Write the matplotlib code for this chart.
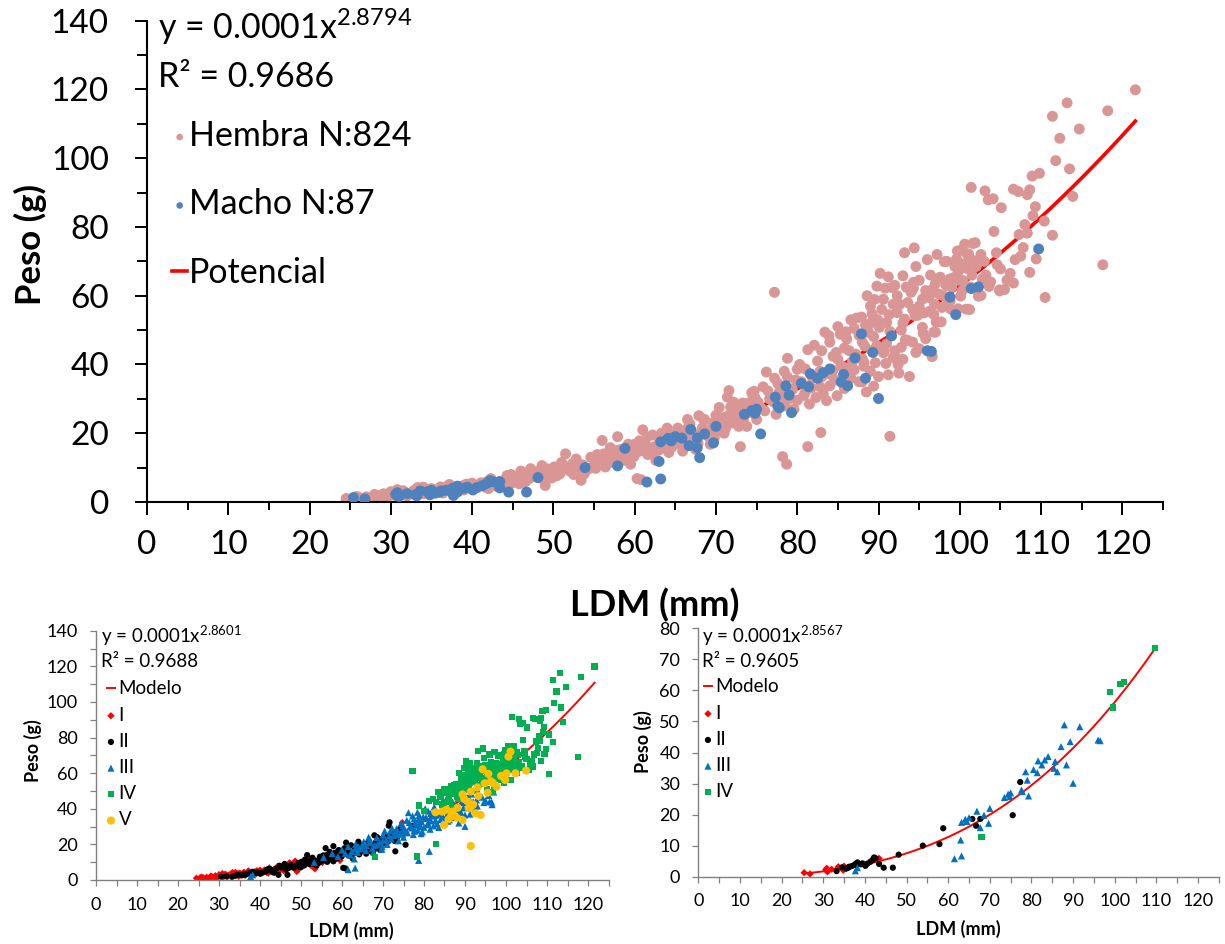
import numpy as np
import matplotlib.pyplot as plt
from matplotlib.ticker import MultipleLocator

plt.rcParams['font.family'] = ['Lato', 'DejaVu Sans']
plt.rcParams['mathtext.default'] = 'regular'

W, H = 1225, 944

# (LDM mm, Peso g), split by class as in the lower-left panel
HEMBRA_I = [
	(24.5, 1.0), (25.3, 0.8), (26.2, 1.2), (27.0, 1.5), (27.8, 1.1), (28.3, 1.9), (28.9, 1.4),
	(29.1, 2.4), (29.8, 2.0), (30.2, 2.6), (30.8, 3.6), (31.2, 2.2), (31.7, 2.9), (32.3, 2.5),
	(32.8, 3.3), (33.3, 4.2), (33.9, 2.8), (34.4, 3.5), (35.0, 3.9), (35.6, 3.0), (36.1, 4.4),
	(36.7, 3.4), (37.2, 5.1), (37.6, 4.0), (38.2, 3.2), (38.8, 4.7), (39.3, 5.2), (39.9, 3.9),
	(40.5, 4.8), (41.1, 5.6), (41.6, 4.3), (42.3, 6.8), (42.8, 5.2), (43.4, 6.0), (44.3, 7.7),
	(44.9, 5.5), (45.5, 6.6), (46.0, 8.2), (46.6, 6.0), (47.2, 9.7), (47.8, 7.3), (48.6, 10.6),
	(49.0, 4.8), (49.6, 8.6), (50.4, 7.6), (51.2, 9.4), (52.5, 8.0), (53.4, 6.3), (55.2, 9.8),
	(57.0, 11.5), (58.6, 12.4), (59.5, 11.0), (74.7, 32.2),
	(25.8, 1.6), (26.8, 0.9), (28.0, 2.2), (29.5, 1.2), (30.0, 3.0), (31.5, 3.3), (32.0, 1.8),
	(33.0, 2.6), (34.0, 4.3), (35.3, 3.5), (36.4, 2.6), (37.0, 4.6), (38.0, 4.4), (39.0, 3.5),
	(40.0, 5.5), (41.3, 4.9), (42.0, 3.9), (43.8, 5.2), (44.6, 6.9), (45.8, 5.3), (46.9, 7.4),
	(48.0, 8.8), (48.9, 6.4), (50.0, 9.5),
]
HEMBRA_II = [
	(30.5, 1.9), (31.8, 2.1), (34.0, 2.4), (36.5, 3.1), (38.5, 3.8), (40.2, 4.1), (41.8, 5.9),
	(43.0, 4.6), (44.0, 6.4), (45.2, 7.1), (46.3, 5.9), (47.5, 8.5), (48.3, 7.0), (49.3, 9.6),
	(50.1, 10.2), (50.8, 8.2), (51.5, 14.0), (51.7, 10.2), (52.4, 11.2), (53.0, 9.2), (53.8, 8.2),
	(54.6, 13.0), (55.0, 10.6), (55.8, 12.3), (56.0, 17.9), (56.2, 14.0), (56.7, 11.6),
	(57.3, 13.4), (57.9, 19.0), (58.2, 15.2), (58.7, 12.1), (59.5, 15.0), (60.3, 6.8),
	(60.8, 6.5), (60.4, 14.6), (61.0, 21.0), (61.2, 17.2), (61.8, 15.8), (62.6, 12.1),
	(63.0, 18.5), (63.6, 16.2), (64.2, 14.4), (64.9, 19.6), (65.5, 17.0), (66.2, 20.5),
	(66.9, 18.1), (67.5, 15.3), (67.9, 25.1), (68.3, 21.4), (69.0, 19.2), (69.6, 23.0),
	(70.2, 20.7), (71.0, 24.6), (71.6, 32.4), (71.4, 30.5), (72.3, 27.0), (73.0, 16.1),
	(73.4, 23.8), (74.2, 29.0),
	(44.8, 8.0), (46.0, 9.0), (47.0, 6.8), (48.8, 8.0), (49.8, 7.0), (51.0, 11.5), (52.0, 9.0),
	(52.8, 12.5), (53.6, 10.8), (54.3, 9.6), (55.4, 13.8), (56.4, 10.2), (57.0, 15.8),
	(57.8, 12.8), (58.5, 14.0), (59.2, 16.8), (59.9, 13.2), (60.6, 17.8), (61.6, 13.8),
	(62.2, 19.5), (62.9, 15.0), (63.4, 17.2), (64.0, 21.5), (64.6, 16.0), (65.2, 18.5),
	(65.9, 14.8), (66.6, 21.8), (67.2, 19.8), (67.8, 17.0), (68.6, 24.0), (69.3, 16.8),
	(70.5, 23.2), (71.2, 21.5), (72.0, 25.5), (72.8, 22.0), (73.8, 27.0),
]
HEMBRA_III = [
	(53.2, 9.9), (55.5, 12.7), (57.6, 14.9), (59.0, 13.2), (60.0, 16.8), (61.5, 18.8),
	(62.4, 16.0), (63.3, 20.0), (64.5, 17.5), (65.3, 21.5), (66.0, 19.3), (66.8, 22.7),
	(67.4, 17.8), (68.5, 23.8), (69.3, 21.0), (70.0, 25.2), (70.8, 22.4), (71.8, 27.6),
	(72.6, 25.0), (73.3, 28.8), (74.0, 26.0), (74.8, 30.4), (75.5, 27.4), (76.2, 37.8),
	(76.4, 32.3), (77.0, 29.2), (77.6, 34.5), (78.2, 30.8), (78.7, 11.0), (78.8, 36.3),
	(79.4, 32.7), (80.0, 29.6), (80.5, 35.0), (81.3, 16.1), (81.0, 38.7), (81.7, 33.2),
	(82.3, 30.4), (83.0, 36.4), (84.0, 33.8), (85.4, 39.6), (86.5, 36.2), (88.0, 41.6),
	(89.0, 38.0), (90.6, 43.4), (92.4, 40.0), (93.6, 47.0), (95.0, 44.6), (96.6, 42.3),
	(97.0, 49.4), (60.8, 15.0), (62.0, 14.0), (63.8, 15.5), (65.8, 16.5), (66.5, 24.0),
	(68.0, 19.5), (69.8, 18.6), (71.0, 20.0), (72.0, 23.0), (73.8, 22.0), (75.0, 24.0),
	(76.0, 26.5), (77.4, 25.5), (78.5, 28.0), (79.6, 27.0), (80.8, 31.0), (81.5, 28.5),
	(82.8, 33.5), (83.6, 29.5), (84.6, 35.5), (85.8, 33.0), (86.9, 38.5), (87.6, 35.0),
	(88.5, 32.0), (89.6, 40.5), (91.2, 37.0), (92.0, 44.0), (93.0, 41.5), (94.2, 46.5),
	(95.8, 47.5),
	(70.4, 27.5), (71.5, 25.0), (72.2, 29.0), (73.0, 26.5), (74.4, 31.8), (75.2, 29.0),
	(75.8, 33.5), (76.6, 30.0), (77.2, 36.0), (77.8, 32.0), (78.4, 38.0), (79.0, 30.0),
	(79.8, 35.5), (80.3, 40.0), (81.0, 32.0), (81.9, 36.0), (82.5, 41.0), (83.2, 31.5),
	(84.2, 37.0), (85.0, 41.5), (86.2, 39.0), (87.2, 43.0), (88.2, 39.5), (89.2, 44.0),
	(90.0, 36.5), (91.0, 46.0), (92.8, 45.0), (94.6, 43.5),
]
HEMBRA_IV = [
	(77.2, 61.0), (78.2, 13.2), (82.9, 20.2), (78.8, 41.8), (80.0, 38.6), (81.3, 44.3),
	(82.1, 45.6), (83.4, 49.4), (83.9, 48.4), (84.4, 42.4), (85.3, 48.8), (85.8, 44.8),
	(86.1, 47.4), (86.8, 40.9), (87.3, 53.5), (87.9, 53.8), (88.3, 45.4), (88.8, 49.3),
	(89.2, 54.7), (89.5, 58.9), (89.8, 62.8), (90.1, 50.8), (90.8, 62.2), (91.0, 52.2),
	(91.6, 62.4), (92.3, 55.1), (92.3, 60.0), (93.0, 65.8), (93.2, 72.5), (93.2, 53.2),
	(94.0, 61.0), (94.3, 63.9), (94.4, 73.9), (94.5, 54.2), (94.6, 68.5), (95.4, 59.0),
	(95.8, 61.5), (95.4, 50.8), (96.7, 62.0), (96.8, 49.4), (97.1, 52.3), (97.6, 65.4),
	(97.8, 56.6), (98.1, 69.9), (98.4, 70.0), (98.8, 64.9), (98.9, 56.1), (99.3, 65.3),
	(99.6, 70.7), (99.7, 73.0), (100.1, 73.2), (100.4, 64.4), (100.6, 75.0), (100.8, 56.1),
	(100.9, 72.1), (101.2, 56.0), (101.4, 91.5), (101.6, 75.2), (101.7, 70.2), (101.9, 75.4),
	(102.3, 60.0), (102.6, 60.1), (102.8, 64.9), (103.1, 90.5), (103.6, 62.7), (103.5, 87.9),
	(104.1, 88.2), (104.2, 78.7), (104.9, 61.7), (105.0, 67.8), (105.1, 85.6), (105.5, 61.8),
	(106.2, 66.5), (106.6, 91.0), (106.6, 63.7), (107.2, 90.3), (107.3, 77.8), (107.5, 71.5),
	(108.0, 80.7), (108.3, 89.4), (108.3, 78.2), (108.6, 90.8), (108.6, 66.8), (108.9, 94.8),
	(109.0, 83.3), (109.3, 85.9), (109.4, 70.7), (109.8, 95.6), (110.4, 81.7), (110.5, 59.5),
	(111.4, 77.6), (111.4, 112.2), (111.8, 99.3), (112.3, 105.8), (113.2, 116.1),
	(113.5, 96.9), (113.9, 88.9), (114.7, 108.5), (117.6, 69.0), (118.2, 113.8),
	(121.6, 119.9), (84.8, 43.5), (86.4, 44.0), (87.0, 50.5), (88.0, 46.5), (89.0, 52.0),
	(90.4, 56.0), (91.8, 57.5), (92.8, 50.0), (93.6, 58.0), (95.0, 57.0), (96.2, 59.5),
	(97.0, 63.5), (98.0, 60.0), (99.0, 62.5), (99.8, 67.0), (100.3, 61.5), (101.5, 66.0),
	(102.0, 68.5), (103.0, 70.0), (104.5, 72.5), (103.2, 66.0),
	(83.0, 44.0), (84.0, 46.5), (85.0, 51.0), (86.0, 49.5), (86.6, 53.0), (87.6, 48.5),
	(88.4, 51.5), (89.0, 57.0), (89.9, 53.0), (90.6, 59.0), (91.3, 54.5), (92.0, 63.0),
	(92.6, 57.5), (93.4, 62.5), (94.2, 56.0), (95.0, 64.5), (95.6, 55.0), (96.4, 66.0),
	(96.9, 57.5), (97.4, 60.5), (98.3, 63.0), (98.6, 58.0), (99.4, 68.5), (100.0, 64.5),
	(100.8, 68.0), (101.3, 62.5), (102.6, 72.0), (103.8, 64.0), (104.6, 69.0), (105.8, 64.5),
	(106.8, 70.5), (107.8, 74.0), (96.0, 70.5), (97.2, 72.0), (91.2, 65.5), (88.6, 60.0),
	(90.2, 66.5),
]
HEMBRA_V = [
	(82.8, 38.0), (84.4, 38.4), (84.9, 30.9), (86.0, 34.1), (87.0, 38.4), (89.4, 48.1),
	(89.4, 33.7), (91.4, 49.6), (90.7, 44.0), (90.9, 40.3), (92.5, 37.5), (93.3, 47.2),
	(94.3, 62.2), (94.8, 54.3), (95.7, 59.6), (97.7, 52.4), (99.8, 56.2), (100.1, 59.9),
	(100.6, 69.3), (101.1, 72.1), (102.3, 59.9), (104.9, 61.4), (91.4, 19.1), (93.8, 36.5),
	(86.6, 36.0), (88.2, 40.6), (92.0, 42.5), (96.3, 55.5),
	(85.5, 39.5), (88.0, 35.0), (89.8, 45.5), (91.8, 42.0), (93.0, 52.0), (95.5, 49.0),
	(96.8, 54.5), (98.8, 58.5),
]

MACHO_I = [
	(25.4, 1.3), (26.8, 0.9), (30.8, 2.7), (31.0, 1.6), (33.6, 3.2), (35.0, 3.4), (34.8, 2.1),
	(43.4, 5.9), (32.0, 2.4), (33.0, 2.1), (30.6, 2.2),
]
MACHO_II = [
	(33.2, 1.8), (36.0, 2.9), (37.6, 4.0), (38.2, 4.6), (39.4, 4.3), (40.1, 3.5), (41.3, 4.8),
	(42.2, 6.2), (43.4, 4.1), (44.5, 2.9), (46.7, 2.9), (48.1, 7.1), (53.9, 10.0), (57.9, 10.5),
	(58.8, 15.6), (65.8, 18.6), (66.7, 16.4), (67.7, 18.6), (75.5, 19.8), (77.3, 30.5),
	(34.5, 3.0), (35.5, 2.6), (36.8, 3.4), (38.0, 3.6), (39.0, 4.0), (40.6, 4.2), (41.8, 5.4),
	(42.6, 5.9), (36.2, 3.2),
]
MACHO_III = [
	(37.7, 1.9), (38.2, 2.9), (61.5, 5.8), (63.2, 6.7), (63.0, 11.8), (63.2, 17.5), (64.1, 18.5),
	(66.9, 21.1), (67.7, 15.8), (68.6, 19.8), (69.7, 17.2), (74.4, 26.6), (74.8, 25.8),
	(77.6, 27.9), (77.8, 27.4), (78.6, 33.8), (79.0, 31.1), (79.3, 26.0), (81.4, 33.5),
	(81.6, 37.3), (83.2, 37.6), (84.0, 38.7), (85.7, 37.1), (86.2, 33.8), (85.4, 34.9),
	(87.1, 41.9), (87.9, 48.9), (88.4, 36.0), (89.3, 43.5), (90.0, 30.1), (91.6, 48.3),
	(96.0, 44.0), (96.5, 43.8), (80.5, 34.5), (82.5, 36.0), (73.5, 25.5), (75.0, 27.0),
	(65.0, 19.0), (70.0, 22.0), (64.5, 17.8),
]
MACHO_IV = [(68.0, 12.9), (98.8, 59.6), (99.5, 54.5), (101.4, 62.1), (102.3, 62.6), (109.7, 73.6)]

HEMBRA = HEMBRA_I + HEMBRA_II + HEMBRA_III + HEMBRA_IV + HEMBRA_V
MACHO = MACHO_I + MACHO_II + MACHO_III + MACHO_IV
CLASES_TODOS = [
	("I", HEMBRA_I + MACHO_I), ("II", HEMBRA_II + MACHO_II), ("III", HEMBRA_III + MACHO_III),
	("IV", HEMBRA_IV + MACHO_IV), ("V", HEMBRA_V),
]
CLASES_MACHO = [("I", MACHO_I), ("II", MACHO_II), ("III", MACHO_III), ("IV", MACHO_IV)]

CLASS_STYLE = {
	"I": dict(marker="D", color="#FF0000", s=14),
	"II": dict(marker="o", color="#000000", s=20),
	"III": dict(marker="^", color="#0070C0", s=26),
	"IV": dict(marker="s", color="#00B050", s=20),
	"V": dict(marker="o", color="#FFC000", s=34),
}


def xy(points):
	arr = np.array(points)
	return arr[:, 0], arr[:, 1]


def power_trend(points):
	x, y = xy(points)
	b, ln_a = np.polyfit(np.log(x), np.log(y), 1)
	xs = np.linspace(x.min(), x.max(), 200)
	return xs, np.exp(ln_a) * xs ** b


def axes_px(fig, left, top, right, bottom):
	return fig.add_axes([left / W, 1 - bottom / H, (right - left) / W, (bottom - top) / H])


fig = plt.figure(figsize=(W / 100, H / 100), dpi=100)

# ---- main panel
ax = axes_px(fig, 147, 20.7, 1163, 502)
xs, ys = power_trend(HEMBRA + MACHO)
line, = ax.plot(xs, ys, color="#FF0000", lw=2.6, zorder=1.5)
hx, hy = xy(HEMBRA)
sc_h = ax.scatter(hx, hy, s=62, color="#D99694", edgecolors="none", zorder=2)
mx, my = xy(MACHO)
sc_m = ax.scatter(mx, my, s=62, color="#4F81BD", edgecolors="none", zorder=3)

ax.set_xlim(0, 125)
ax.set_ylim(0, 140)
for side in ("top", "right"):
	ax.spines[side].set_visible(False)
for side in ("left", "bottom"):
	ax.spines[side].set_linewidth(1.5)
ax.xaxis.set_major_locator(MultipleLocator(10))
ax.xaxis.set_minor_locator(MultipleLocator(5))
ax.yaxis.set_major_locator(MultipleLocator(20))
ax.yaxis.set_minor_locator(MultipleLocator(10))
ax.tick_params(axis="x", which="major", length=9, width=1.4, labelsize=24, pad=11)
ax.tick_params(axis="x", which="minor", length=5.5, width=1.4)
ax.tick_params(axis="y", which="major", length=8.5, width=1.4, labelsize=24, pad=19)
ax.tick_params(axis="y", which="minor", length=7, width=1.4)
ax.set_xlabel("LDM (mm)", fontsize=26, fontweight="bold")
ax.set_ylabel("Peso (g)", fontsize=25, fontweight="bold")
ax.xaxis.set_label_coords(0.5, -0.178)
ax.yaxis.set_label_coords(-0.098, 0.535)

fig.text(158 / W, 1 - 39 / H, "y = 0.0001x$^{2.8794}$", fontsize=24.5, va="baseline")
fig.text(158 / W, 1 - 86.7 / H, "R² = 0.9686", fontsize=24.5, va="baseline")
ax.legend([sc_h, sc_m, line], ["Hembra N:824", "Macho N:87", "Potencial"],
	loc="upper left", bbox_to_anchor=(172 / W, 1 - 120 / H), bbox_transform=fig.transFigure,
	frameon=False, fontsize=24.5, handlelength=0.45, handletextpad=0.05, labelspacing=1.07,
	borderpad=0, borderaxespad=0, markerscale=0.6, scatterpoints=1)


def small_panel(ax, classes, ymax, ystep, yminor, eq, r2, eq_left):
	xs, ys = power_trend([p for _, pts in classes for p in pts])
	line, = ax.plot(xs, ys, color="#FF0000", lw=1.4, zorder=1.5)
	handles = [line]
	labels = ["Modelo"]
	for name, pts in classes:
		x, y = xy(pts)
		st = CLASS_STYLE[name]
		handles.append(ax.scatter(x, y, s=st["s"], marker=st["marker"], color=st["color"],
			edgecolors="none", zorder=2))
		labels.append(name)
	ax.set_xlim(0, 125)
	ax.set_ylim(0, ymax)
	for side in ("top", "right"):
		ax.spines[side].set_visible(False)
	for side in ("left", "bottom"):
		ax.spines[side].set_color("#808080")
		ax.spines[side].set_linewidth(1.0)
	ax.xaxis.set_major_locator(MultipleLocator(10))
	ax.xaxis.set_minor_locator(MultipleLocator(5))
	ax.yaxis.set_major_locator(MultipleLocator(ystep))
	if yminor:
		ax.yaxis.set_minor_locator(MultipleLocator(yminor))
	ax.tick_params(which="both", length=4, width=0.9, color="#808080", labelsize=13)
	ax.tick_params(axis="x", which="both", pad=8)
	ax.tick_params(axis="y", which="both", pad=9)
	ax.set_xlabel("LDM (mm)", fontsize=13, fontweight="bold")
	ax.set_ylabel("Peso (g)", fontsize=13, fontweight="bold")
	fig.text(eq_left / W, 1 - 643.3 / H, eq, fontsize=13.5, va="baseline")
	fig.text(eq_left / W, 1 - 667.3 / H, r2, fontsize=13.5, va="baseline")
	return handles, labels


axL = axes_px(fig, 96, 630.7, 608.5, 880)
handles, labels = small_panel(axL, CLASES_TODOS, 140, 20, 10,
	"y = 0.0001x$^{2.8601}$", "R² = 0.9688", 101)
axL.xaxis.set_label_coords(0.499, -0.17)
axL.yaxis.set_label_coords(-0.105, 0.52)
axL.legend(handles, labels, loc="upper left", bbox_to_anchor=(107 / W, 1 - 680.5 / H),
	bbox_transform=fig.transFigure, frameon=False, fontsize=13.5, handlelength=0.42,
	handletextpad=0.2, labelspacing=0.49, borderpad=0, borderaxespad=0, scatterpoints=1)

axR = axes_px(fig, 698.4, 628.3, 1218.8, 876.7)
handles, labels = small_panel(axR, CLASES_MACHO, 80, 10, None,
	"y = 0.0001x$^{2.8567}$", "R² = 0.9605", 701.5)
axR.xaxis.set_label_coords(0.499, -0.174)
axR.yaxis.set_label_coords(-0.089, 0.542)
axR.legend(handles, labels, loc="upper left", bbox_to_anchor=(704 / W, 1 - 678.5 / H),
	bbox_transform=fig.transFigure, frameon=False, fontsize=13.5, handlelength=0.42,
	handletextpad=0.2, labelspacing=0.49, borderpad=0, borderaxespad=0, scatterpoints=1)

fig.savefig("out.png", dpi=100)
